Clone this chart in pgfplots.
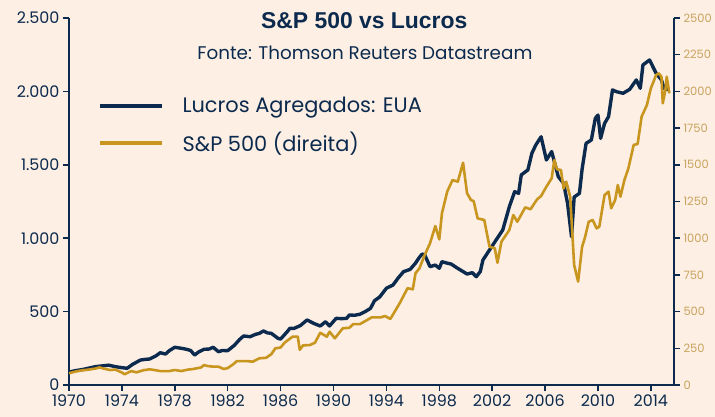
\documentclass[border=0pt]{standalone}
\usepackage{pgfplots}
\pgfplotsset{compat=1.18}
\usepackage{fontspec}
\setmainfont{Poppins}
\newfontfamily\titlefont{Liberation Sans}
\definecolor{bg}{HTML}{FDEFE3}
\definecolor{navy}{HTML}{0B2A4E}
\definecolor{gold}{HTML}{C8951F}
\definecolor{goldtxt}{HTML}{C9A35E}
\begin{document}
\begin{tikzpicture}
\fill[bg] (-69bp,-32bp) rectangle (646bp,385bp);
\begin{axis}[
  at={(0,0)}, anchor=south west,
  scale only axis, width=605bp, height=367bp,
  xmin=1970, xmax=2015.75, ymin=0, ymax=2500,
  clip=false,
  axis x line*=bottom, axis y line*=left,
  axis line style={navy, line width=1.5pt, -},
  tick style={navy, line width=1.5pt},
  tick align=outside, major tick length=6bp,
  xtick={1970,1974,...,2014},
  xticklabels={1970,1974,1978,1982,1986,1990,1994,1998,2002,2006,2010,2014},
  ytick={0,500,...,2500},
  xticklabel style={font=\fontsize{16}{18}\selectfont, text=navy},
  yticklabel style={font=\fontsize{16}{18}\selectfont, text=navy},
  /pgf/number format/.cd, use comma, 1000 sep={.}, assume math mode=true,
  /pgfplots/.cd,
  legend cell align=left,
  legend style={at={(axis description cs:0.048,0.79)}, anchor=north west,
    draw=none, fill=none, font=\fontsize{21}{24}\selectfont, text=navy,
    row sep=14bp, inner sep=0pt, /tikz/column 1/.style={column sep=16bp}},
  legend image code/.code={\draw[#1, line width=4.3pt] (0bp,0bp) -- (62bp,0bp);},
]
\addplot[navy, line width=3.4pt, line join=round] coordinates {
(1970.0,88) (1970.5,98) (1971.0,105) (1971.5,115) (1972.0,125) (1972.5,130)
(1973.0,135) (1973.5,125) (1974.0,118) (1974.4,114) (1974.8,140) (1975.4,170)
(1975.8,175) (1976.1,177) (1976.6,200) (1976.9,220) (1977.3,211) (1977.6,235)
(1978.0,257) (1978.5,250) (1978.9,243) (1979.2,235) (1979.5,204) (1979.8,225)
(1980.2,243) (1980.6,245) (1980.9,257) (1981.3,227) (1981.6,235) (1982.0,234)
(1982.5,270) (1982.9,310) (1983.2,334) (1983.7,329) (1984.1,345) (1984.4,352)
(1984.7,368) (1985.0,355) (1985.3,352) (1985.8,318) (1986.0,313) (1986.5,363)
(1986.7,386) (1987.0,385) (1987.5,405) (1988.0,443) (1988.5,420) (1989.0,402)
(1989.4,431) (1989.7,402) (1990.2,454) (1990.6,452) (1991.0,454) (1991.2,477)
(1991.6,475) (1992.0,482) (1992.4,500) (1992.8,522) (1993.1,574) (1993.5,600)
(1994.0,659) (1994.5,681) (1994.9,730) (1995.3,772) (1995.8,788) (1996.2,830)
(1996.5,870) (1996.7,892) (1996.9,886) (1997.3,806) (1997.7,817) (1998.0,795)
(1998.2,840) (1998.6,830) (1998.9,824) (1999.3,800) (1999.7,778) (2000.1,756)
(2000.5,765) (2000.8,738) (2001.1,772) (2001.3,851) (2001.8,920) (2002.3,988)
(2002.8,1056) (2003.3,1215) (2003.7,1317) (2004.0,1306) (2004.2,1431) (2004.7,1465)
(2005.0,1578) (2005.3,1635) (2005.7,1691) (2006.1,1533) (2006.5,1590) (2007.0,1419)
(2007.4,1374) (2007.7,1238) (2008.0,1010) (2008.2,1280) (2008.6,1306) (2008.8,1470)
(2009.1,1646) (2009.5,1669) (2009.8,1817) (2010.0,1839) (2010.2,1680) (2010.5,1782)
(2010.8,1828) (2011.1,2010) (2011.4,1998) (2011.9,1987) (2012.4,2014) (2012.9,2078)
(2013.2,2021) (2013.4,2180) (2013.9,2214) (2014.4,2123) (2014.8,2078) (2015.0,2021)
(2015.4,2010)
};
\addlegendentry{Lucros Agregados: EUA}
\addplot[gold, line width=2.6pt, line join=round] coordinates {
(1970.0,80) (1970.5,92) (1971.0,100) (1971.5,105) (1972.0,112) (1972.3,120)
(1972.7,110) (1973.1,102) (1973.5,105) (1974.0,85) (1974.2,73) (1974.7,95)
(1975.1,86) (1975.6,100) (1976.1,107) (1976.6,100) (1976.9,95) (1977.6,95)
(1978.0,102) (1978.5,95) (1979.0,105) (1979.4,109) (1980.0,120) (1980.2,136)
(1980.5,129) (1980.9,125) (1981.3,125) (1981.7,109) (1982.0,115) (1982.4,140)
(1982.7,163) (1983.4,163) (1983.9,159) (1984.4,182) (1984.9,185) (1985.3,210)
(1985.6,250) (1986.0,255) (1986.3,288) (1986.9,329) (1987.3,330) (1987.45,240)
(1987.7,270) (1988.2,272) (1988.6,288) (1989.0,356) (1989.5,329) (1989.7,363)
(1990.1,318) (1990.7,386) (1991.2,390) (1991.5,415) (1992.0,415) (1992.9,461)
(1993.6,461) (1993.9,470) (1994.3,450) (1995.0,556) (1995.6,659) (1996.0,652)
(1996.2,761) (1996.5,795) (1996.9,886) (1997.3,965) (1997.7,1083) (1998.0,992)
(1998.2,1169) (1998.6,1317) (1999.0,1396) (1999.4,1385) (1999.8,1514) (2000.1,1306)
(2000.4,1260) (2000.6,1253) (2000.9,1135) (2001.4,1124) (2001.8,942) (2002.2,931)
(2002.4,833) (2002.7,976) (2003.3,1056) (2003.6,1158) (2003.9,1112) (2004.5,1210)
(2004.9,1197) (2005.4,1265) (2005.7,1287) (2006.1,1351) (2006.5,1408) (2006.7,1533)
(2006.9,1469) (2007.2,1465) (2007.4,1339) (2007.6,1385) (2007.9,1283) (2008.2,817)
(2008.5,704) (2008.8,942) (2009.0,999) (2009.3,1112) (2009.6,1124) (2009.9,1067)
(2010.1,1078) (2010.5,1294) (2010.8,1317) (2011.0,1204) (2011.3,1260) (2011.5,1362)
(2011.7,1283) (2012.0,1396) (2012.3,1476) (2012.7,1635) (2013.0,1642) (2013.3,1828)
(2013.7,1907) (2014.0,2021) (2014.4,2112) (2014.6,2123) (2014.8,2100) (2014.9,1919)
(2015.1,2010) (2015.2,2100) (2015.4,1987)
};
\addlegendentry{S\&P 500 (direita)}
\node[font=\titlefont\bfseries\fontsize{23}{26}\selectfont, text=navy] at (axis description cs:0.488,0.992) {S\&P 500 vs Lucros};
\node[font=\fontsize{18.4}{21}\selectfont, text=navy] at (axis description cs:0.489,0.905) {Fonte: Thomson Reuters Datastream};
\end{axis}
\begin{axis}[
  at={(0,0)}, anchor=south west,
  scale only axis, width=605bp, height=367bp,
  xmin=1970, xmax=2015.75, ymin=0, ymax=2500,
  axis y line*=right, axis x line=none,
  axis line style={navy, line width=1.5pt, -},
  tick style={navy, line width=1.5pt},
  tick align=outside, major tick length=6bp,
  ytick={0,250,...,2500},
  yticklabel style={font=\fontsize{11.5}{13}\selectfont, text=goldtxt},
  /pgf/number format/.cd, 1000 sep={}, assume math mode=true,
]
\addplot[draw=none] coordinates {(1970,0)};
\end{axis}
\pgfresetboundingbox
\path (-69bp,-32bp) rectangle (646bp,385bp);
\end{tikzpicture}
\end{document}
